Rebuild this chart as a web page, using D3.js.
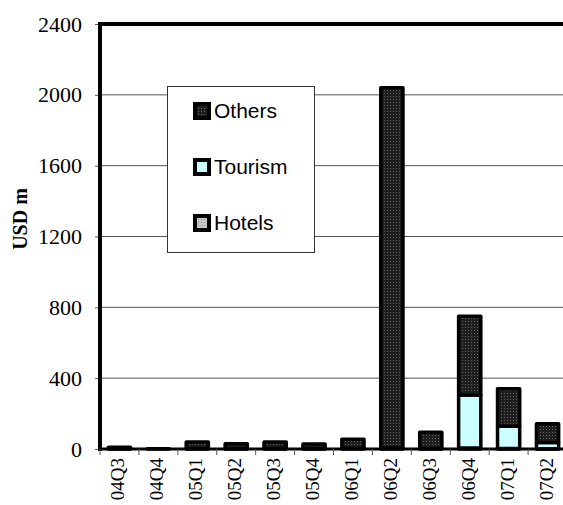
<!DOCTYPE html>
<html>
<head>
<meta charset="utf-8">
<script src="https://cdn.jsdelivr.net/npm/d3@7"></script>
<style>
  body { margin: 0; background: #fff; }
  svg { display: block; }
</style>
</head>
<body>
<svg width="563" height="505"></svg>
<script>
  // quarters and stacked values (USD m)
  var quarters = ['04Q3','04Q4','05Q1','05Q2','05Q3','05Q4','06Q1','06Q2','06Q3','06Q4','07Q1','07Q2'];
  var hotels  = [2, 0, 3, 2, 3, 2, 4, 5, 3, 5, 3, 2];
  var tourism = [0, 0, 0, 0, 0, 0, 0, 0, 0, 300, 125, 35];
  var others  = [8, 2, 37, 28, 37, 26, 51, 2035, 92, 445, 212, 106];
  var yTicks = [0, 400, 800, 1200, 1600, 2000, 2400];

  var svg = d3.select('svg');
  var mL = 100, mT = 24, mR = 567, mB = 449;
  var serif = 'Liberation Serif, Times New Roman, serif';

  var x = d3.scaleBand().domain(quarters).range([mL, mR]).paddingInner(0.43).paddingOuter(0.215);
  var y = d3.scaleLinear().domain([0, 2400]).range([mB, mT]);

  var defs = svg.append('defs');
  var p1 = defs.append('pattern').attr('id', 'dotsDark').attr('width', 3).attr('height', 3)
    .attr('patternUnits', 'userSpaceOnUse');
  p1.append('rect').attr('width', 3).attr('height', 3).attr('fill', '#1e1e1e');
  p1.append('rect').attr('width', 1).attr('height', 1).attr('fill', '#666');
  var p2 = defs.append('pattern').attr('id', 'dotsLight').attr('width', 3).attr('height', 3)
    .attr('patternUnits', 'userSpaceOnUse');
  p2.append('rect').attr('width', 3).attr('height', 3).attr('fill', '#c8c8c8');
  p2.append('rect').attr('width', 1).attr('height', 1).attr('fill', '#888');

  // gridlines
  svg.append('g').selectAll('line').data(yTicks.slice(1, -1)).enter().append('line')
    .attr('x1', mL).attr('x2', 563)
    .attr('y1', function(d){ return y(d); }).attr('y2', function(d){ return y(d); })
    .attr('stroke', '#555').attr('stroke-width', 1);

  // y axis
  var yAxis = svg.append('g').attr('transform', 'translate(' + mL + ',0)')
    .call(d3.axisLeft(y).tickValues(yTicks).tickFormat(d3.format('d')).tickSize(5).tickPadding(13));
  yAxis.select('.domain').remove();
  yAxis.selectAll('line').attr('stroke', '#555');
  yAxis.selectAll('text').attr('font-family', serif)
    .attr('font-size', 22).attr('fill', '#000');

  // stacked series
  var series = [
    {name: 'Hotels', values: hotels, fill: 'url(#dotsLight)'},
    {name: 'Tourism', values: tourism, fill: '#ccffff'},
    {name: 'Others', values: others, fill: 'url(#dotsDark)'}
  ];
  var base = quarters.map(function(){ return 0; });
  series.forEach(function(s){
    var segs = quarters.map(function(q, i){
      var d = {q: q, y0: base[i], y1: base[i] + s.values[i]};
      base[i] = d.y1;
      return d;
    }).filter(function(d){ return d.y1 > d.y0; });
    svg.append('g').selectAll('rect').data(segs).enter().append('rect')
      .attr('x', function(d){ return x(d.q); })
      .attr('width', x.bandwidth())
      .attr('y', function(d){ return y(d.y1); })
      .attr('height', function(d){ return y(d.y0) - y(d.y1); })
      .attr('fill', s.fill)
      .attr('stroke', '#000').attr('stroke-width', 3.5)
      .attr('stroke-linejoin', 'round');
  });

  // frame lines
  svg.append('line').attr('x1', mL).attr('x2', 563).attr('y1', mT).attr('y2', mT)
    .attr('stroke', '#000').attr('stroke-width', 4);
  svg.append('line').attr('x1', mL).attr('x2', mL).attr('y1', mT - 2).attr('y2', mB + 2)
    .attr('stroke', '#000').attr('stroke-width', 4);
  svg.append('line').attr('x1', mL - 2).attr('x2', 563).attr('y1', mB).attr('y2', mB)
    .attr('stroke', '#000').attr('stroke-width', 3);

  // x axis ticks at band boundaries + labels
  var step = x.step();
  var xg = svg.append('g');
  quarters.forEach(function(q, i){
    var bx = mL + step * i;
    xg.append('line').attr('x1', bx).attr('x2', bx).attr('y1', mB).attr('y2', mB + 6)
      .attr('stroke', '#555');
    var cx = x(q) + x.bandwidth() / 2;
    xg.append('text')
      .attr('transform', 'translate(' + (cx + 5) + ',' + (mB + 9) + ') rotate(-90)')
      .attr('text-anchor', 'end')
      .attr('font-family', serif)
      .attr('font-size', 19)
      .text(q);
  });

  // y label
  svg.append('text')
    .attr('transform', 'translate(27,219) rotate(-90)')
    .attr('text-anchor', 'middle')
    .attr('font-family', serif)
    .attr('font-weight', 'bold').attr('font-size', 20)
    .text('USD m');

  // legend
  var lg = svg.append('g');
  lg.append('rect').attr('x', 167.5).attr('y', 86.5).attr('width', 147).attr('height', 166)
    .attr('fill', '#fff').attr('stroke', '#333').attr('stroke-width', 1);
  var legendItems = series.slice().reverse();
  legendItems.forEach(function(s, i){
    var ly = 102 + i * 56;
    lg.append('rect').attr('x', 193).attr('y', ly).attr('width', 18).attr('height', 18).attr('fill', '#000');
    lg.append('rect').attr('x', 197).attr('y', ly + 4).attr('width', 10).attr('height', 10).attr('fill', s.fill);
    lg.append('text').attr('x', 214).attr('y', ly + 16)
      .attr('font-family', 'Liberation Sans, Arial, sans-serif').attr('font-size', 21)
      .text(s.name);
  });
</script>
</body>
</html>
